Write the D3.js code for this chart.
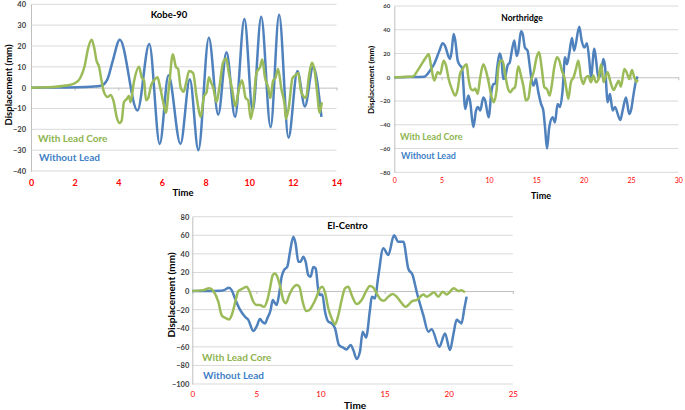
<!DOCTYPE html>
<html>
<head>
<meta charset="utf-8">
<script src="https://cdn.jsdelivr.net/npm/d3@7"></script>
<style>
  html, body { margin: 0; padding: 0; background: #ffffff; }
  svg { display: block; font-family: Lato, "Open Sans", "Liberation Sans", sans-serif; }
</style>
</head>
<body>
<svg id="chart" width="685" height="410"></svg>
<script>
// ---------------- DATA ----------------
const seriesNames = ["With Lead Core", "Without Lead"];

// Kobe-90
const kobeXTicks = [0, 2, 4, 6, 8, 10, 12, 14];
const kobeYTicks = [-40, -30, -20, -10, 0, 10, 20, 30, 40];
const kobeWithLead = [[0,0],[1,0.3],[1.6,1],[2.0,2],[2.25,4.5],[2.45,10],[2.62,19],[2.78,23],[2.9,19],[3.0,13],[3.12,10],[3.22,4],[3.34,-2],[3.52,-4.5],[3.65,-3.5],[3.77,-6],[3.95,-15],[4.05,-17],[4.15,-16],[4.26,-7],[4.38,-5.5],[4.49,-4],[4.56,-7],[4.72,3],[4.95,10],[5.07,5],[5.18,3.5],[5.27,-6],[5.37,-5],[5.5,1],[5.68,4],[5.8,5],[5.9,1],[6.06,-7],[6.18,-12],[6.32,0],[6.5,16],[6.64,10],[6.74,9],[6.86,0],[7.0,-2],[7.1,2],[7.25,8],[7.43,7],[7.59,-4.5],[7.78,-14],[7.92,-4.5],[8.05,-2],[8.15,5],[8.25,2.5],[8.35,0],[8.5,-7],[8.63,0],[8.8,12],[8.95,14],[9.05,8],[9.22,-1],[9.37,-9],[9.52,-1],[9.67,3.5],[9.84,-5],[9.95,-6],[10.07,-15],[10.18,-9],[10.33,7],[10.5,10],[10.6,13.5],[10.72,5],[10.87,0],[10.97,-5],[11.1,3.5],[11.2,4.5],[11.32,9],[11.48,-1],[11.63,-9],[11.68,-15],[11.82,-9],[11.98,4.5],[12.12,6],[12.25,7],[12.36,-1],[12.47,-4],[12.6,-5],[12.73,5],[12.87,12],[13.0,8],[13.1,-1],[13.23,-12],[13.33,-7]];
const kobeWithoutLead = [[0,0],[1.5,0.1],[2.5,0.3],[3.2,0.9],[3.5,4],[3.75,13],[4.07,23],[4.88,-11],[5.42,21],[5.9,-27],[6.3,6],[6.85,-27],[7.28,4],[7.67,-30],[8.15,24],[8.58,-13],[8.96,17],[9.35,-14],[9.78,33],[10.16,-11],[10.55,34],[10.98,-19],[11.37,35],[11.8,-24],[12.21,8],[12.55,-9],[12.93,10],[13.31,-14]];

// Northridge
const northXTicks = [0, 5, 10, 15, 20, 25, 30];
const northYTicks = [-80, -60, -40, -20, 0, 20, 40, 60];
const northWithLead = [[0,0],[1.4,0.5],[1.94,0.6],[2.46,5.6],[3.0,12.6],[3.35,16.8],[3.63,19.6],[3.87,10],[4.22,-2.8],[4.58,4.2],[4.86,2.8],[5.2,14],[5.46,10],[5.74,-1.4],[6.09,-10],[6.44,-15.4],[6.69,-10],[6.94,2.8],[7.22,7],[7.46,10],[7.64,11],[7.82,0],[8.1,-10],[8.35,-11],[8.55,-9.5],[8.8,-14],[9.08,0],[9.4,11],[9.68,5.6],[9.96,-4],[10.28,-16.8],[10.5,-21],[10.8,-11],[11.0,8.4],[11.2,14],[11.44,14],[11.7,2.8],[11.97,-8.4],[12.25,-12.6],[12.5,-10],[12.75,-8.4],[13.1,9.3],[13.38,1.4],[13.66,-8.4],[13.9,-19.6],[14.15,-18],[14.44,-2.8],[14.72,4.2],[15.03,16.8],[15.3,21],[15.56,8.4],[15.85,-8.4],[16.13,-10],[16.4,-15.4],[16.6,-8.4],[16.9,8.4],[17.18,16.8],[17.43,14],[17.7,5.6],[17.96,0],[18.2,-11],[18.38,-18],[18.66,-4],[18.94,0],[19.19,7],[19.44,14],[19.72,0],[19.96,-5.6],[20.25,0],[20.5,1],[20.77,-4.2],[21.02,1.4],[21.3,-4.2],[21.55,-2],[21.85,11],[22.1,-4],[22.3,0],[22.54,4.2],[22.8,-3],[23.17,-10.7],[23.5,-5.6],[23.7,-3],[23.94,-7.9],[24.3,7],[24.54,4.2],[24.82,-1.4],[25.1,6.2],[25.35,0],[25.6,-4],[25.7,-2]];
const northWithoutLead = [[0,0],[1.5,0.2],[3.2,0.5],[3.35,1.4],[3.8,6],[4.2,11],[4.75,22],[5.1,28.6],[5.35,26.7],[5.7,18],[5.88,15.4],[6.06,22],[6.27,36.5],[6.44,31],[6.7,14],[6.94,10],[7.15,8],[7.5,-26.7],[7.82,-15.4],[8.0,-20],[8.35,-42],[8.63,-28],[8.85,-25],[9.08,-28],[9.4,-17],[9.6,-19.6],[9.96,-33.7],[10.28,-11],[10.46,-5.6],[10.67,-5.6],[10.9,10],[11.13,20],[11.34,14],[11.5,-1.4],[11.7,0],[11.97,10],[12.2,12.6],[12.43,23],[12.68,31],[12.92,18],[13.1,22],[13.38,38.7],[13.56,36.5],[13.8,25],[14.08,22.4],[14.26,12.6],[14.5,-2],[14.72,-7],[14.96,-1.4],[15.2,-12],[15.5,-22.4],[15.74,-28],[15.92,-42],[16.13,-60],[16.37,-42],[16.73,-33.7],[16.97,-38],[17.25,-22.4],[17.5,-25],[17.78,-11],[18.03,16.8],[18.24,11],[18.5,21],[18.77,33],[19.0,22.4],[19.54,42.6],[19.79,31],[20.07,25],[20.35,28.6],[20.6,14],[20.77,0],[21.13,24],[21.3,15.4],[21.55,0],[21.83,2.8],[22.08,15.4],[22.25,10],[22.54,-21],[22.78,-14],[23.06,-28],[23.3,-25],[23.87,-36],[24.12,-28],[24.47,-17],[24.82,-31],[25.0,-28],[25.28,-14],[25.53,-3],[25.7,0.6]];

// El-Centro
const elXTicks = [0, 5, 10, 15, 20, 25];
const elYTicks = [-100, -80, -60, -40, -20, 0, 20, 40, 60, 80];
const elWithLead = [[0,0],[0.86,1],[1.33,3],[1.64,0],[2.03,-11.5],[2.29,-26],[2.55,-28.7],[2.86,-30.5],[3.07,-26],[3.33,-13],[3.59,0],[3.85,2],[4.24,4.7],[4.45,0],[4.76,-11.5],[5.02,-15],[5.28,-15],[5.59,-17],[5.85,-9.7],[6.06,2.9],[6.27,17],[6.45,19],[6.63,15.4],[6.89,2.9],[7.1,-9.7],[7.3,-13],[7.56,-4.3],[7.83,2.9],[8.14,6.5],[8.35,4.7],[8.61,-11.5],[8.87,-21.5],[9.13,-20.4],[9.39,-15],[9.7,-6],[9.96,2.9],[10.14,4.7],[10.35,-1.4],[10.61,-18.7],[10.87,-29.4],[11.13,-35.9],[11.39,-26],[11.65,-9.7],[11.91,2.9],[12.17,4.7],[12.43,-4.3],[12.82,-14],[13.21,-9.7],[13.6,1],[13.86,5.4],[14.12,3.6],[14.38,-2.5],[14.69,-9],[14.95,-10.4],[15.29,-6],[15.63,-3.2],[15.94,-6],[16.25,-11.5],[16.64,-17],[16.85,-15],[17.16,-10.8],[17.5,-9.7],[18.02,-3.6],[18.28,-6],[18.55,-4],[18.85,-1.4],[19.19,-6],[19.53,-0.7],[19.84,-3.6],[20.41,2.9],[20.75,0],[21.0,1],[21.27,-1.4]];
const elWithoutLead = [[0,0],[1.2,0],[2.2,0.3],[2.47,1],[2.86,3.6],[3.07,1],[3.33,-8],[3.72,-20],[4.11,-27.6],[4.37,-31],[4.76,-43],[5.02,-38],[5.28,-30],[5.46,-33],[5.67,-34.8],[5.85,-29.4],[6.11,-20.4],[6.27,-9.7],[6.45,-13],[6.58,-15],[6.76,-4.3],[6.97,15.4],[7.16,22.6],[7.41,26.2],[7.62,42],[7.88,58.5],[8.06,51],[8.27,31.6],[8.45,31.6],[8.66,37],[8.84,31.6],[9.05,17],[9.23,15.4],[9.44,26],[9.62,24.4],[9.83,1],[9.96,-4.3],[10.14,-3.6],[10.35,-22],[10.61,-33],[10.87,-34.8],[11.13,-40],[11.44,-58],[11.78,-61],[12.04,-62.8],[12.35,-58],[12.56,-63.5],[12.82,-73],[13.08,-65],[13.29,-43.8],[13.55,-50],[13.86,-20],[14.0,-6],[14.25,-8],[14.5,15],[14.9,46],[15.29,38.8],[15.73,60],[16.07,53],[16.46,53],[16.85,24],[17.19,17],[17.5,-0.7],[18.02,-26],[18.41,-43.8],[18.67,-41],[19.27,-60],[19.71,-45.6],[20.1,-63.5],[20.36,-47],[20.62,-31],[20.83,-33],[21.0,-34.8],[21.22,-18.7],[21.4,-6]];

// ---------------- LAYOUT / STYLE ----------------
const GREEN = "#9BBB59", BLUE = "#4F81BD";
const charts = [
  { title: "Kobe-90", lead: kobeWithLead, noLead: kobeWithoutLead, xTicks: kobeXTicks, yTicks: kobeYTicks,
    box: [31, 336.5, 4.3, 171], titlePos: [169, 17.5], titleSize: 9.5,
    ylabPos: [8, 85], ylabSize: 9.5, xlabPos: [183, 196], xlabSize: 9.5,
    xTickSize: 9, xTickWeight: "bold", xTickOff: 15, yTickSize: 7.5, yTickGap: 5,
    legend: [[38, 141.5], [39, 160.5]], legendSize: 10 },
  { title: "Northridge", lead: northWithLead, noLead: northWithoutLead, xTicks: northXTicks, yTicks: northYTicks,
    box: [394.3, 678.3, 6, 172.3], titlePos: [522, 20.5], titleSize: 8.5,
    ylabPos: [371, 80], ylabSize: 8, xlabPos: [541, 199], xlabSize: 9,
    xTickSize: 7, xTickWeight: "normal", xTickOff: 12, yTickSize: 6, yTickGap: 4,
    legend: [[400, 140], [401, 158.5]], legendSize: 9 },
  { title: "El-Centro", lead: elWithLead, noLead: elWithoutLead, xTicks: elXTicks, yTicks: elYTicks,
    box: [192.3, 512.8, 216.7, 384], titlePos: [347.5, 229], titleSize: 9.5,
    ylabPos: [171, 295], ylabSize: 10, xlabPos: [355, 409], xlabSize: 10,
    xTickSize: 8, xTickWeight: "normal", xTickOff: 13, yTickSize: 7.5, yTickGap: 3,
    legend: [[202, 360.5], [203, 379]], legendSize: 10 }
];

const svg = d3.select("#chart");

charts.forEach(c => {
  const [x0, x1, y0, y1] = c.box;
  const x = d3.scaleLinear().domain([c.xTicks[0], c.xTicks[c.xTicks.length - 1]]).range([x0, x1]);
  const y = d3.scaleLinear().domain([c.yTicks[0], c.yTicks[c.yTicks.length - 1]]).range([y1, y0]);
  const g = svg.append("g");

  // horizontal gridlines
  g.append("g").selectAll("line").data(c.yTicks.filter(v => v !== 0)).join("line")
    .attr("x1", x0).attr("x2", x1).attr("y1", d => y(d)).attr("y2", d => y(d))
    .attr("stroke", "#D9D9D9").attr("stroke-width", 1);

  // y axis
  const yAxis = g.append("g").attr("transform", `translate(${x0},0)`)
    .call(d3.axisLeft(y).tickValues(c.yTicks).tickSize(0).tickPadding(c.yTickGap));
  yAxis.select(".domain").attr("stroke", "#BFBFBF");
  yAxis.selectAll("text").attr("font-size", c.yTickSize).attr("fill", "#404040")
    .attr("font-weight", "bold").style("font-family", "Lato, sans-serif");

  // zero axis with tick marks
  const zAxis = g.append("g").attr("transform", `translate(0,${y(0)})`)
    .call(d3.axisBottom(x).tickValues(c.xTicks).tickSize(3).tickSizeOuter(0).tickFormat(""));
  zAxis.select(".domain").attr("stroke", "#BFBFBF");
  zAxis.selectAll(".tick line").attr("stroke", "#BFBFBF");

  // x tick labels (low)
  const xAxis = g.append("g").attr("transform", `translate(0,${y1})`)
    .call(d3.axisBottom(x).tickValues(c.xTicks).tickSize(0).tickPadding(c.xTickOff - 6));
  xAxis.select(".domain").remove();
  xAxis.selectAll("text").attr("font-size", c.xTickSize).attr("fill", "#FF0000")
    .attr("font-weight", c.xTickWeight).style("font-family", "Lato, sans-serif");

  // lines
  const line = d3.line().x(d => x(d[0])).y(d => y(d[1])).curve(d3.curveMonotoneX);
  g.append("path").datum(c.noLead).attr("d", line).attr("fill", "none")
    .attr("stroke", BLUE).attr("stroke-width", 2.5).attr("stroke-linejoin", "round");
  g.append("path").datum(c.lead).attr("d", line).attr("fill", "none")
    .attr("stroke", GREEN).attr("stroke-width", 2.5).attr("stroke-linejoin", "round");

  // title
  g.append("text").attr("x", c.titlePos[0]).attr("y", c.titlePos[1]).attr("text-anchor", "middle")
    .attr("font-size", c.titleSize).attr("font-weight", "bold").attr("fill", "#000").text(c.title);

  // axis titles
  g.append("text").attr("transform", `translate(${c.ylabPos[0]},${c.ylabPos[1]}) rotate(-90)`)
    .attr("text-anchor", "middle").attr("dominant-baseline", "central")
    .attr("font-size", c.ylabSize).attr("font-weight", "bold").attr("fill", "#000").text("Displacement (mm)");
  g.append("text").attr("x", c.xlabPos[0]).attr("y", c.xlabPos[1]).attr("text-anchor", "middle")
    .attr("font-size", c.xlabSize).attr("font-weight", "bold").attr("fill", "#000").text("Time");

  // legend labels
  [GREEN, BLUE].forEach((col, i) => {
    g.append("text").attr("x", c.legend[i][0]).attr("y", c.legend[i][1])
      .attr("font-size", c.legendSize).attr("font-weight", "bold").attr("fill", i === 0 ? "#8DB44E" : "#3F7FC6")
      .text(seriesNames[i]);
  });
});
</script>
</body>
</html>
